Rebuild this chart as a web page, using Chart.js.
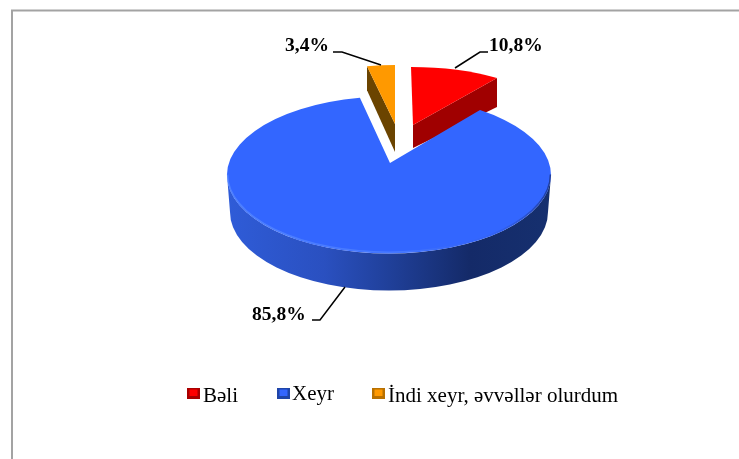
<!DOCTYPE html>
<html><head><meta charset="utf-8">
<style>html,body{margin:0;padding:0;background:#fff;overflow:hidden}canvas{display:block;filter:blur(0.5px)}</style>
<script src="https://cdn.jsdelivr.net/npm/chart.js@4"></script>
</head><body><canvas id="c" width="739" height="459"></canvas>
<script>
const categories = ['Bəli', 'Xeyr', 'İndi xeyr, əvvəllər olurdum'];
const shares = [10.8, 85.8, 3.4];
const topColors = ['#FF0000', '#3366FF', '#FF9900'];
const sideColors = ['#A00000', '#1F3F95', '#6B4400'];
const edgeColors = ['#A80000', '#1F45A8', '#B87000'];

// Projection of each slice's top face (tilted 3D pie seen in perspective)
const sliceViews = [
  {cx:411, cy:117, rx:137, ry:50, ax:413, ay:125, depth:24, nudgeS:0, nudgeE:0},
  {cx:389, cy:175, rx:162, ry:78.5, ax:390, ay:163, depth:37, nudgeS:-0.082, nudgeE:0.033},
  {cx:395, cy:115, rx:132, ry:50, ax:395, ay:124, depth:28, nudgeS:0, nudgeE:0}
];
const drawOrder = [0, 2, 1];
const labelViews = [
  {x:489, y:51, line:[[455,68],[480,52],[488,52]]},
  {x:252, y:320, line:[[345,287],[320,320],[312,320]]},
  {x:285, y:51, line:[[333,52],[342,52],[381,65]]}
];
const legendViews = [
  {box:187, text:203, y:402},
  {box:277, text:292, y:400},
  {box:372, text:388, y:402}
];
const SERIF = '"Liberation Serif","Times New Roman",serif';

const pie3d = {
  id:'pie3d',
  beforeDraw(chart){
    const c = chart.ctx;
    c.save();
    c.fillStyle = '#fff'; c.fillRect(0,0,739,459);
    c.fillStyle = '#a3a3a3';
    c.fillRect(11,10,2,449);
    c.fillRect(11,9.5,728,2);
    c.restore();
  },
  beforeDatasetDraw(chart){
    const c = chart.ctx, arcs = chart.getDatasetMeta(0).data;
    drawOrder.forEach(i=>{
      const a = arcs[i], v = sliceViews[i];
      const s = a.startAngle + v.nudgeS, e = a.endAngle + v.nudgeE;
      const px = t=>v.cx+v.rx*Math.cos(t), py = t=>v.cy+v.ry*Math.sin(t);
      c.save();
      if(i===1){
        // curved outer wall
        const g = c.createLinearGradient(v.cx-v.rx,0,v.cx+v.rx,0);
        g.addColorStop(0,'#2F5CD8'); g.addColorStop(0.3,'#2A50C0');
        g.addColorStop(0.5,'#20409A'); g.addColorStop(0.75,'#142A68');
        g.addColorStop(1,'#16306F');
        c.fillStyle = g;
        c.beginPath();
        c.ellipse(v.cx,v.cy,v.rx,v.ry,0,Math.PI,0,true);
        c.ellipse(v.cx,v.cy+v.depth,v.rx-3,v.ry,0,0,Math.PI,false);
        c.closePath(); c.fill();
      } else if(i===0){
        // cut face along the slice's end edge
        c.fillStyle = sideColors[i];
        c.beginPath();
        c.moveTo(px(e),py(e)); c.lineTo(px(e),py(e)+29);
        c.lineTo(v.ax,v.ay+v.depth-1); c.lineTo(v.ax,v.ay); c.closePath(); c.fill();
      } else {
        // cut face along the slice's start edge
        c.fillStyle = sideColors[i];
        c.beginPath();
        c.moveTo(px(s),py(s)); c.lineTo(px(s),py(s)+24);
        c.lineTo(v.ax,v.ay+v.depth); c.lineTo(v.ax,v.ay); c.closePath(); c.fill();
      }
      // top face
      c.fillStyle = a.options.backgroundColor;
      c.beginPath();
      c.moveTo(v.ax,v.ay);
      c.lineTo(px(s),py(s));
      c.ellipse(v.cx,v.cy,v.rx,v.ry,0,s,e,false);
      c.closePath(); c.fill();
      if(i===1){
        // soft bevel on the lower rim
        const g2 = c.createLinearGradient(v.cx-v.rx,0,v.cx+v.rx,0);
        g2.addColorStop(0,'rgba(90,140,255,0.7)');
        g2.addColorStop(0.55,'rgba(90,140,255,0.5)');
        g2.addColorStop(0.8,'rgba(50,90,220,0.2)');
        g2.addColorStop(1,'rgba(25,50,130,0.8)');
        c.strokeStyle = g2; c.lineWidth = 1.5;
        c.beginPath();
        c.ellipse(v.cx,v.cy-0.6,v.rx-0.6,v.ry-0.6,0,Math.PI,0,true);
        c.stroke();
      }
      c.restore();
    });
    return false;
  },
  afterDatasetsDraw(chart){
    const c = chart.ctx;
    c.save();
    // data labels with leader lines
    labelViews.forEach((l,i)=>{
      c.strokeStyle = '#000'; c.lineWidth = 1.5;
      c.beginPath();
      l.line.forEach((p,j)=> j? c.lineTo(p[0],p[1]) : c.moveTo(p[0],p[1]));
      c.stroke();
      c.fillStyle = '#000';
      c.font = 'bold 19.5px '+SERIF;
      c.textAlign = 'left'; c.textBaseline = 'alphabetic';
      c.fillText(shares[i].toFixed(1).replace('.',',')+'%', l.x, l.y);
    });
    // legend
    categories.forEach((name,i)=>{
      const l = legendViews[i];
      const y = 388;
      c.save();
      c.filter = 'blur(0.7px)';
      c.fillStyle = edgeColors[i];
      c.fillRect(l.box,y,13,11);
      c.fillStyle = topColors[i];
      c.fillRect(l.box+2.5,y+1.5,8,6.5);
      c.restore();
      c.fillStyle = '#000';
      c.font = '21px '+SERIF;
      c.fillText(name, l.text, l.y);
    });
    c.restore();
  }
};

new Chart(document.getElementById('c'), {
  type:'pie',
  data:{labels:categories, datasets:[{data:shares, backgroundColor:topColors, borderWidth:0}]},
  options:{
    responsive:false, animation:false, rotation:0,
    plugins:{legend:{display:false}, tooltip:{enabled:false}}
  },
  plugins:[pie3d]
});
</script></body></html>
